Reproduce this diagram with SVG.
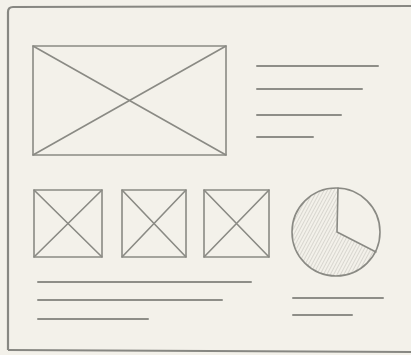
<svg xmlns="http://www.w3.org/2000/svg" width="411" height="355" viewBox="0 0 411 355">
<style>
.s{fill:none;stroke:#8a8a84;stroke-width:1.6;stroke-linecap:round;stroke-linejoin:round}
.t{fill:none;stroke:#8e8e88;stroke-width:2;stroke-linecap:round}
.f{fill:none;stroke:#878782;stroke-width:2.2;stroke-linejoin:round}
</style>
<defs>
<pattern id="hatch" width="3" height="3" patternUnits="userSpaceOnUse" patternTransform="rotate(28)">
<line x1="0" y1="0" x2="0" y2="3" stroke="#b8b7af" stroke-width="0.9"/>
</pattern>
</defs>
<rect width="411" height="355" fill="#f3f1ea"/>
<g id="frame"><path class="f" d="M8,350 L8,12 Q8,7 13,7 L411,6"/><path class="f" d="M8,350 L411,352"/></g>
<g id="hero-image">
<rect class="s" x="33" y="46" width="193" height="109"/>
<path class="s" d="M33,46 L226,155 M226,46 L33,155"/>
</g>
<g id="hero-text">
<line class="t" x1="257" y1="66" x2="378" y2="66"/>
<line class="t" x1="257" y1="89" x2="362" y2="89"/>
<line class="t" x1="257" y1="115" x2="341" y2="115"/>
<line class="t" x1="257" y1="137" x2="313" y2="137"/>
</g>
<g id="thumb1"><rect class="s" x="34" y="190" width="68" height="67"/><path class="s" d="M34,190 L102,257 M102,190 L34,257"/></g>
<g id="thumb2"><rect class="s" x="122" y="190" width="64" height="67"/><path class="s" d="M122,190 L186,257 M186,190 L122,257"/></g>
<g id="thumb3"><rect class="s" x="204" y="190" width="65" height="67"/><path class="s" d="M204,190 L269,257 M269,190 L204,257"/></g>
<g id="pie">
<path d="M337,232 L338,188 A44,44 0 1 0 376,252 Z" fill="url(#hatch)"/>
<circle class="s" cx="336" cy="232" r="44" stroke-width="1.7"/>
<path class="s" d="M338,188 L337,232 L376,252" stroke-width="1.7"/>
</g>
<g id="body-text">
<line class="t" x1="38" y1="282" x2="251" y2="282"/>
<line class="t" x1="38" y1="300" x2="222" y2="300"/>
<line class="t" x1="38" y1="319" x2="148" y2="319"/>
</g>
<g id="pie-caption">
<line class="t" x1="293" y1="298" x2="383" y2="298"/>
<line class="t" x1="293" y1="315" x2="352" y2="315"/>
</g>
</svg>
